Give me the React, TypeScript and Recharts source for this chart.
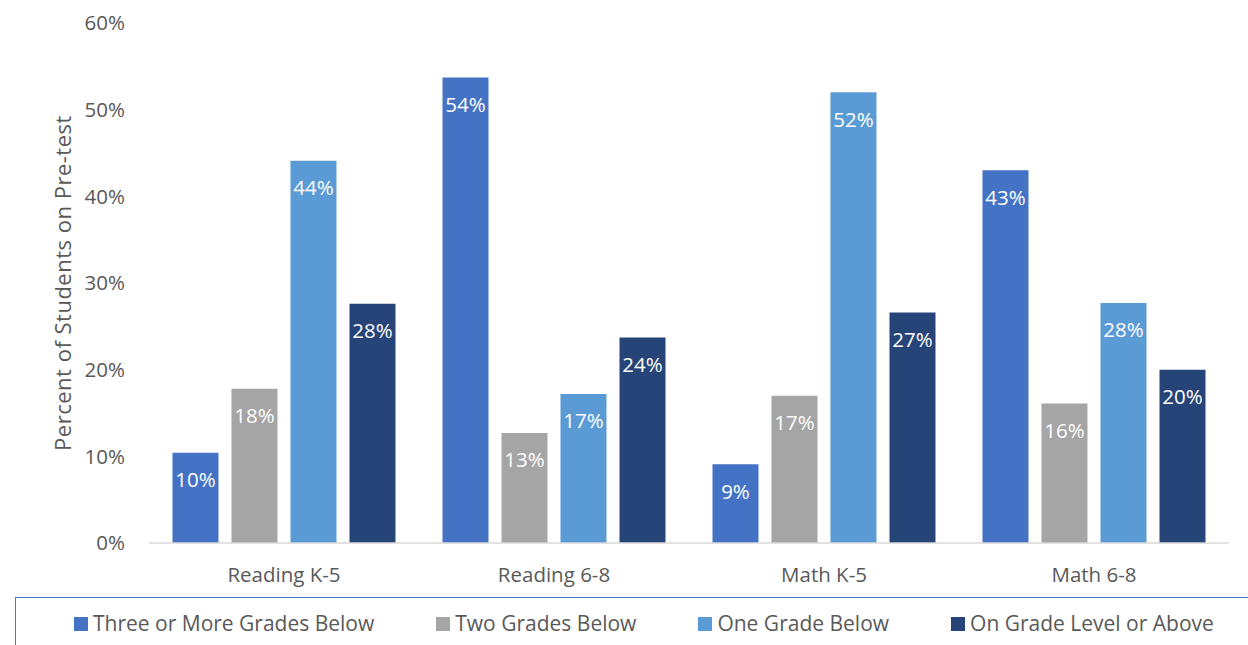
import React from 'react';
import { BarChart, Bar, XAxis, YAxis, Legend, LabelList, Label } from 'recharts';

const categories = ['Reading K-5', 'Reading 6-8', 'Math K-5', 'Math 6-8'];
const threeOrMoreBelow = [10.4, 53.7, 9.1, 43.0];
const twoGradesBelow = [17.8, 12.7, 17.0, 16.1];
const oneGradeBelow = [44.1, 17.2, 52.0, 27.7];
const onGradeOrAbove = [27.6, 23.7, 26.6, 20.0];
const yTicks = [0, 10, 20, 30, 40, 50, 60];

const seriesKeys = ['three', 'two', 'one', 'on'];
const seriesNames = ['Three or More Grades Below', 'Two Grades Below', 'One Grade Below', 'On Grade Level or Above'];
const seriesColors = ['#4472C4', '#A5A5A5', '#5B9BD5', '#264478'];
const seriesValues = [threeOrMoreBelow, twoGradesBelow, oneGradeBelow, onGradeOrAbove];

const data = categories.map((c, i) => {
  const row: Record<string, any> = { category: c };
  seriesKeys.forEach((k, s) => {
    row[k] = seriesValues[s][i];
  });
  return row;
});

const FONT = "'Open Sans', 'Noto Sans', sans-serif";
const TEXT = '#595959';

const pct = (v: any) => `${Math.round(Number(v))}%`;

const LegendBox = () => {
  return (
    <div
      style={{
        borderTop: '1.5px solid #4a76c6',
        borderLeft: '1.5px solid #4a76c6',
        height: 80,
        width: 1300,
        boxSizing: 'border-box',
        paddingTop: 12,
        paddingLeft: 58,
        display: 'flex',
        flexDirection: 'row',
        alignItems: 'flex-start',
        gap: 62,
        fontFamily: FONT,
        fontSize: 21,
        color: TEXT,
        lineHeight: '26px',
      }}
    >
      {seriesNames.map((name, s) => (
        <div key={name} style={{ display: 'flex', alignItems: 'center', whiteSpace: 'nowrap' }}>
          <span style={{ display: 'inline-block', width: 14, height: 14, background: seriesColors[s], marginRight: 5, marginTop: 2 }} />
          <span>{name}</span>
        </div>
      ))}
    </div>
  );
};

export default function App() {
  return (
    <div style={{ position: 'absolute', left: 0, top: 0, width: 1248, height: 645, overflow: 'hidden', background: '#fff' }}>
      <BarChart
        width={1248}
        height={645}
        data={data}
        margin={{ top: 23, right: 19, bottom: 72, left: 0 }}
        barCategoryGap="8.7%"
        barGap={13}
        style={{ fontFamily: FONT }}
      >
        <XAxis
          dataKey="category"
          tickLine={false}
          axisLine={{ stroke: '#D9D9D9', strokeWidth: 1.5 }}
          tick={{ fill: TEXT, fontSize: 20.5, fontFamily: FONT }}
          tickMargin={18}
          height={30}
        />
        <YAxis
          domain={[0, 60]}
          ticks={yTicks}
          tickFormatter={(v: number) => `${v}%`}
          axisLine={false}
          tickLine={false}
          tick={{ fill: TEXT, fontSize: 20.5, fontFamily: FONT }}
          tickMargin={18}
          width={149}
        >
          <Label
            value="Percent of Students on Pre-test"
            angle={-90}
            position="center"
            dx={-11}
            style={{ fill: TEXT, fontSize: 22, letterSpacing: 0.5, fontFamily: FONT, textAnchor: 'middle' }}
          />
        </YAxis>
        <Legend
          layout="vertical"
          align="center"
          verticalAlign="middle"
          content={<LegendBox />}
          wrapperStyle={{ position: 'absolute', left: 15, top: 597, width: 1300, height: 80 }}
        />
        {seriesKeys.map((k, s) => (
          <Bar key={k} dataKey={k} name={seriesNames[s]} fill={seriesColors[s]} isAnimationActive={false}>
            <LabelList
              dataKey={k}
              position="insideTop"
              offset={20}
              formatter={pct}
              style={{ fill: '#FFFFFF', fontSize: 20.5, fontFamily: FONT }}
            />
          </Bar>
        ))}
      </BarChart>
    </div>
  );
}
